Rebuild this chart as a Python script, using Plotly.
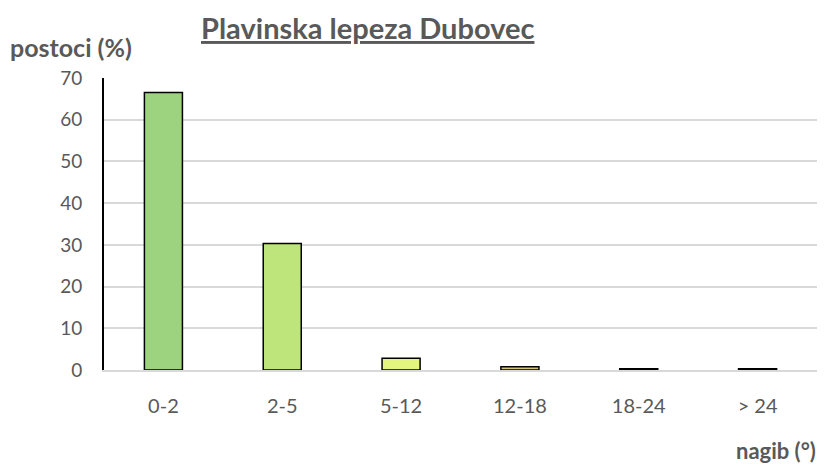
import plotly.graph_objects as go

categories = ["0-2", "2-5", "5-12", "12-18", "18-24", "> 24"]
values = [66.5, 30.3, 2.8, 0.8, 0.3, 0.3]
colors = ["#9dd37f", "#bde57b", "#e4f57f", "#d6c47e", "#c9c9a0", "#c9c9a0"]
yticks = [0, 10, 20, 30, 40, 50, 60, 70]

FONT = "Lato"
GREY = "#595959"
OFF = 8  # page body margin offset

fig = go.Figure()
fig.add_trace(go.Bar(
    x=categories, y=values,
    marker=dict(color=colors, line=dict(color="#000000", width=1.5)),
    width=0.32,
))

W, H = 831, 466
ml, mr, mt, mb = 104 - OFF, 14 + OFF, 78 - OFF, 96 + OFF

fig.update_layout(
    width=W, height=H,
    margin=dict(l=ml, r=mr, t=mt, b=mb),
    paper_bgcolor="white", plot_bgcolor="white",
    showlegend=False,
    font=dict(family=FONT, color=GREY, size=16),
    xaxis=dict(showgrid=False, showline=True, linecolor="#d9d9d9", linewidth=1.5,
               ticks="", ticklabelstandoff=17, tickfont=dict(size=20, color=GREY),
               zeroline=False),
    yaxis=dict(range=[0, 70], tickvals=yticks, showgrid=True, gridcolor="#d9d9d9",
               gridwidth=1.5, showline=True, linecolor="#000000", linewidth=2,
               ticks="", ticklabelstandoff=16, tickfont=dict(size=19, color=GREY),
               zeroline=False),
)

pw, ph = W - ml - mr, H - mt - mb


def px(x):
    return (x - OFF - ml) / pw


def py(y):
    return (H - mb - (y - OFF)) / ph


fig.add_annotation(text="<b>Plavinska lepeza Dubovec</b>", x=px(367), y=py(27),
                   xref="paper", yref="paper", showarrow=False, xanchor="center", yanchor="middle",
                   font=dict(size=29, color=GREY, family=FONT, lineposition="under"))
fig.add_annotation(text="<b>postoci (%)</b>", x=px(8), y=py(47), xref="paper", yref="paper",
                   showarrow=False, xanchor="left", yanchor="middle",
                   font=dict(size=25, color=GREY, family=FONT))
fig.add_annotation(text="<b>nagib (°)</b>", x=px(818), y=py(450), xref="paper", yref="paper",
                   showarrow=False, xanchor="right", yanchor="middle",
                   font=dict(size=22, color=GREY, family=FONT))

fig.write_html("out.html")
